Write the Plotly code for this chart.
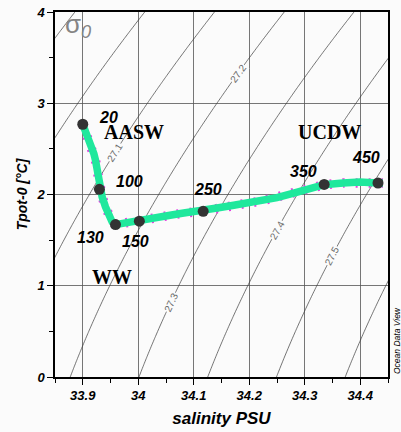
import numpy as np
import plotly.graph_objects as go

# ---------------- data ----------------
path_S = [33.900, 33.902, 33.908, 33.911, 33.917, 33.920, 33.923, 33.926, 33.929, 33.931,
          33.935, 33.941, 33.947, 33.953, 33.959, 33.968, 33.983, 34.002, 34.022, 34.040,
          34.060, 34.082, 34.118, 34.142, 34.172, 34.202, 34.220, 34.238, 34.250, 34.280,
          34.309, 34.335, 34.369, 34.399, 34.432, 34.441]
path_T = [2.770, 2.740, 2.630, 2.558, 2.521, 2.448, 2.375, 2.265, 2.156, 2.054,
          1.973, 1.863, 1.753, 1.699, 1.670, 1.681, 1.699, 1.710, 1.730, 1.755,
          1.775, 1.797, 1.819, 1.852, 1.882, 1.911, 1.925, 1.950, 1.966, 2.016,
          2.065, 2.108, 2.126, 2.137, 2.126, 2.126]

station_depth = [20, 100, 130, 150, 250, 350, 450]
station_S = [33.900, 33.930, 33.959, 34.002, 34.117, 34.335, 34.432]
station_T = [2.770, 2.057, 1.670, 1.708, 1.816, 2.110, 2.126]

water_mass = ["AASW", "UCDW", "WW"]
water_mass_S = [33.993, 34.344, 33.953]
water_mass_T = [2.68, 2.69, 1.10]

sigma_label_levels = [27.1, 27.2, 27.3, 27.4, 27.5]
sigma_label_T = [2.46, 3.33, 0.82, 1.61, 1.33]

x_tickvals = [33.9, 34.0, 34.1, 34.2, 34.3, 34.4]
x_ticktext = ["33.9", "34", "34.1", "34.2", "34.3", "34.4"]
y_tickvals = [0, 1, 2, 3, 4]

# ---------------- layout constants ----------------
W, H = 401, 432
ML, MR, MT, MB = 55, 13, 12, 55
XR = [33.85, 34.45]
YR = [0, 4]
PW, PH = W - ML - MR, H - MT - MB
px_per_S = PW / (XR[1] - XR[0])
px_per_T = PH / (YR[1] - YR[0])

# depth label offsets (pixels: dx right, dy up)
depth_label_shift = [(26, 7), (30, 8), (-25, -13), (-4, -20), (5, 22), (-21, 13), (-12, 26)]

BG = "#fbfbfb"
FONT = "Liberation Sans, Arial, sans-serif"


def sigma0(S, T):
    T = np.asarray(T, dtype=float)
    S = np.asarray(S, dtype=float)
    rw = (999.842594 + 6.793952e-2 * T - 9.095290e-3 * T**2 + 1.001685e-4 * T**3
          - 1.120083e-6 * T**4 + 6.536332e-9 * T**5)
    A = 8.24493e-1 - 4.0899e-3 * T + 7.6438e-5 * T**2 - 8.2467e-7 * T**3 + 5.3875e-9 * T**4
    B = -5.72466e-3 + 1.0227e-4 * T - 1.6546e-6 * T**2
    C = 4.8314e-4
    return rw + A * S + B * S**1.5 + C * S**2 - 1000.0


Sg = np.linspace(33.80, 34.50, 141)
Tg = np.linspace(-0.2, 4.2, 121)
SS, TT = np.meshgrid(Sg, Tg)
Z = sigma0(SS, TT)

fig = go.Figure()

fig.add_trace(go.Contour(
    x=Sg, y=Tg, z=Z,
    autocontour=False,
    contours=dict(coloring="lines", start=26.8, end=27.8, size=0.1, showlabels=False),
    colorscale=[[0, "#3a3a3a"], [1, "#3a3a3a"]],
    line=dict(width=0.7),
    showscale=False, hoverinfo="skip",
))

# magenta speckles under the green band
fig.add_trace(go.Scatter(
    x=path_S, y=path_T, mode="lines",
    line=dict(color="#e23ee0", width=9.5, dash="2px,11px"),
    hoverinfo="skip", showlegend=False,
))
fig.add_trace(go.Scatter(
    x=path_S, y=path_T, mode="lines",
    line=dict(color="#1fe89c", width=7.5),
    hoverinfo="skip", showlegend=False,
))
fig.add_trace(go.Scatter(
    x=station_S, y=station_T, mode="markers",
    marker=dict(color="#333333", size=11),
    hoverinfo="skip", showlegend=False,
))

annotations = []
# depth labels
for d, s, t, (dx, dy) in zip(station_depth, station_S, station_T, depth_label_shift):
    annotations.append(dict(
        x=s, y=t, xref="x", yref="y", text=f"<b><i>{d}</i></b>", showarrow=False,
        xanchor="center", yanchor="middle",
        xshift=dx, yshift=dy, font=dict(family=FONT, size=16, color="black"),
    ))
# water mass labels
for name, s, t in zip(water_mass, water_mass_S, water_mass_T):
    annotations.append(dict(
        x=s, y=t, xref="x", yref="y", text=f"<b>{name}</b>", showarrow=False,
        xanchor="center", yanchor="middle",
        font=dict(family="Liberation Serif, Times New Roman, serif", size=20, color="black"),
    ))
# contour labels, placed on the computed isopycnals
Sfine = np.linspace(33.5, 35.0, 30001)
for lev, t in zip(sigma_label_levels, sigma_label_T):
    sig = sigma0(Sfine, t)
    s = float(np.interp(lev, sig, Sfine))
    eps = 1e-4
    dsdS = (sigma0(s + eps, t) - sigma0(s - eps, t)) / (2 * eps)
    dsdT = (sigma0(s, t + eps) - sigma0(s, t - eps)) / (2 * eps)
    dx = -dsdT * px_per_S
    dy = dsdS * px_per_T
    ang = -np.degrees(np.arctan2(dy, dx))
    annotations.append(dict(
        x=s, y=t, xref="x", yref="y", text=f"{lev:.1f}", showarrow=False,
        xanchor="center", yanchor="middle",
        textangle=float(ang), bgcolor=BG, borderpad=0,
        font=dict(family=FONT, size=10, color="#6a6a6a"),
    ))
# sigma symbol
annotations.append(dict(
    x=(78 - ML) / PW, y=1 - (26 - MT) / PH, xref="paper", yref="paper",
    xanchor="center", yanchor="middle",
    text="σ<sub><i>0</i></sub>", showarrow=False,
    font=dict(family=FONT, size=26, color="#858585"),
))
# Ocean Data View
annotations.append(dict(
    x=(397 - ML) / PW, y=1 - (341 - MT) / PH, xref="paper", yref="paper",
    xanchor="center", yanchor="middle",
    text="<i>Ocean Data View</i>", showarrow=False, textangle=-90,
    font=dict(family=FONT, size=8.5, color="black"),
))

axis_common = dict(
    showline=True, linecolor="black", linewidth=1.6, mirror=True,
    ticks="outside", ticklen=6, tickwidth=1, tickcolor="black",
    showgrid=True, gridcolor="#555555", gridwidth=0.8, zeroline=False,
    tickfont=dict(family=FONT, size=13, color="black"),
    automargin=False,
)

fig.update_layout(
    width=W, height=H,
    margin=dict(l=ML, r=MR, t=MT, b=MB, autoexpand=False),
    paper_bgcolor=BG, plot_bgcolor=BG,
    showlegend=False,
    annotations=annotations,
    xaxis=dict(
        range=XR, tickvals=x_tickvals, ticktext=[f"<b><i>{t}</i></b>" for t in x_ticktext],
        minor=dict(dtick=0.05, tick0=33.85, ticks="outside", ticklen=4, tickcolor="black", showgrid=False),
        title=dict(text="<b><i>salinity PSU</i></b>", font=dict(family=FONT, size=17, color="black"), standoff=10),
        **axis_common,
    ),
    yaxis=dict(
        range=YR, tickvals=y_tickvals, ticktext=[f"<b><i>{t}</i></b>" for t in y_tickvals],
        minor=dict(dtick=0.5, tick0=0, ticks="outside", ticklen=4, tickcolor="black", showgrid=False),
        title=dict(text="<b><i>Tpot-0 [°C]</i></b>", font=dict(family=FONT, size=14, color="black"), standoff=5),
        **axis_common,
    ),
)

fig.write_html(
    "out.html",
    config={"displayModeBar": False, "staticPlot": True},
    post_script="document.body.style.margin='0';document.body.style.overflow='hidden';document.body.style.background='" + BG + "';",
)
